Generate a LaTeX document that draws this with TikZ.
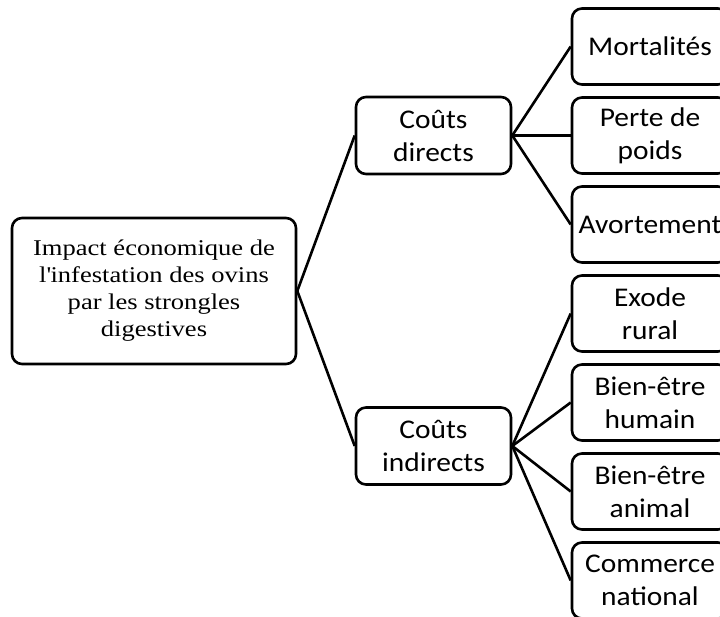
\documentclass[tikz,border=0pt]{standalone}
\usepackage{fontspec}
\setmainfont[FakeStretch=1.18]{Liberation Serif}
\newfontfamily\calib[FakeStretch=1.09]{Carlito}
\begin{document}
\begin{tikzpicture}[x=1pt,y=-1pt,
  box/.style={draw,line width=2.6pt,rounded corners=10pt,align=center,inner sep=0pt},
  leafbox/.style={box,minimum width=156pt,minimum height=76pt,font=\calib\fontsize{27}{33}\selectfont},
  midbox/.style={box,minimum width=155pt,minimum height=77pt,font=\calib\fontsize{27}{33}\selectfont},
  rootbox/.style={box,minimum width=284pt,minimum height=146pt,font=\fontsize{22.5}{27}\selectfont},
  link/.style={line width=2.6pt}]
\useasboundingbox (0,0) rectangle (720,617);
\node[rootbox] (root) at (154,291) {Impact économique de\\l\textquotesingle infestation des ovins\\par les strongles\\digestives};
\node[midbox] (cd) at (433.5,135.5) {Coûts\\directs};
\node[midbox] (ci) at (433.5,446) {Coûts\\indirects};
\node[leafbox] (m1) at (650,46.5) {Mortalités};
\node[leafbox] (m2) at (650,135.5) {Perte de\\poids};
\node[leafbox] (m3) at (650,224.5) {Avortement};
\node[leafbox] (i1) at (650,313.5) {Exode\\rural};
\node[leafbox] (i2) at (650,402.5) {Bien-être\\humain};
\node[leafbox] (i3) at (650,491.5) {Bien-être\\animal};
\node[leafbox] (i4) at (650,580.5) {Commerce\\national};
\draw[link] (root.east) -- (cd.west);
\draw[link] (root.east) -- (ci.west);
\foreach \t in {m1,m2,m3} \draw[link] (cd.east) -- (\t.west);
\foreach \t in {i1,i2,i3,i4} \draw[link] (ci.east) -- (\t.west);
\end{tikzpicture}
\end{document}
